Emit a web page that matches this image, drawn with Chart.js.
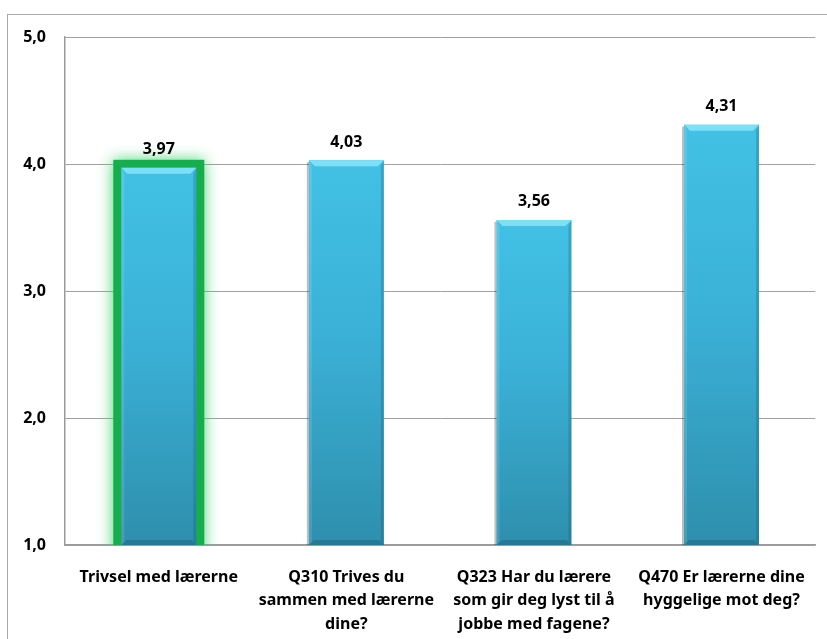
<!DOCTYPE html>
<html>
<head>
<meta charset="utf-8">
<script src="https://cdn.jsdelivr.net/npm/chart.js@4.4.1/dist/chart.umd.min.js"></script>
<style>
  html, body { margin: 0; padding: 0; background: #fff; overflow: hidden; }
  #wrap { position: relative; width: 827px; height: 639px; }
  #frame { position: absolute; left: 7px; top: 14px; width: 840px; height: 660px;
           border: 1px solid #a8a8a8; box-sizing: border-box; }
  canvas { position: absolute; left: 0; top: 0; }
</style>
</head>
<body>
<div id="wrap">
  <div id="frame"></div>
  <canvas id="myChart" width="827" height="639"></canvas>
</div>
<script>
// categories and values
var categories = [
  ["Trivsel med lærerne"],
  ["Q310 Trives du", "sammen med lærerne", "dine?"],
  ["Q323 Har du lærere", "som gir deg lyst til å", "jobbe med fagene?"],
  ["Q470 Er lærerne dine", "hyggelige mot deg?"]
];
var scores = [3.97, 4.03, 3.56, 4.31];
var yTicks = [1, 2, 3, 4, 5];

var fontFam = "'Noto Sans', 'DejaVu Sans', sans-serif";

function comma(v, d){
  return v.toFixed(d).replace('.', ',');
}

// bar fill: light cyan at top, darker teal at the base
function barFill(ctx){
  var chart = ctx.chart;
  var ys = chart.scales.y;
  if (!ys || ctx.raw == null || !chart.chartArea) return '#3bb0d6';
  var top = ys.getPixelForValue(ctx.raw);
  var bot = ys.getPixelForValue(ys.min);
  if (!isFinite(top) || !isFinite(bot)) return '#3bb0d6';
  var g = chart.ctx.createLinearGradient(0, top, 0, bot);
  g.addColorStop(0, '#42c1e5');
  g.addColorStop(0.45, '#3bb1d7');
  g.addColorStop(1, '#2e8fad');
  return g;
}

// green glow round the first bar
var glowPlugin = {
  id: 'glow',
  beforeDatasetsDraw: function(chart){
    var bar = chart.getDatasetMeta(0).data[0];
    if (!bar) return;
    var c = chart.ctx, a = chart.chartArea;
    var half = bar.width / 2;
    c.save();
    c.beginPath();
    c.rect(a.left, a.top - 20, a.right - a.left, a.bottom - a.top + 20);
    c.clip();
    c.shadowColor = 'rgba(60,210,110,0.95)';
    c.shadowBlur = 14;
    c.fillStyle = '#16ae4d';
    c.fillRect(bar.x - half - 8, bar.y - 8, bar.width + 16, a.bottom - bar.y + 20);
    c.restore();
  }
};

// bevel edges and value labels
var bevelPlugin = {
  id: 'bevel',
  afterDatasetsDraw: function(chart){
    var c = chart.ctx, a = chart.chartArea;
    chart.getDatasetMeta(0).data.forEach(function(bar, i){
      var l = bar.x - bar.width / 2, r = bar.x + bar.width / 2, t = bar.y;
      var b = Math.min(bar.base, a.bottom);
      var bv = 6;
      c.save();
      // top bevel
      c.fillStyle = '#7ee0f6';
      c.beginPath();
      c.moveTo(l, t); c.lineTo(r, t); c.lineTo(r - bv, t + bv); c.lineTo(l + bv, t + bv); c.closePath();
      c.fill();
      // right edge darker
      c.fillStyle = 'rgba(20,80,110,0.25)';
      c.beginPath();
      c.moveTo(r, t); c.lineTo(r, b); c.lineTo(r - 3, b - 3); c.lineTo(r - 3, t + bv); c.closePath();
      c.fill();
      // left edge light
      c.fillStyle = 'rgba(255,255,255,0.12)';
      c.beginPath();
      c.moveTo(l, t); c.lineTo(l, b); c.lineTo(l + 3, b - 3); c.lineTo(l + 3, t + bv); c.closePath();
      c.fill();
      // bottom bevel
      c.fillStyle = 'rgba(20,70,95,0.3)';
      c.beginPath();
      c.moveTo(l, b); c.lineTo(r, b); c.lineTo(r - 5, b - 5); c.lineTo(l + 5, b - 5); c.closePath();
      c.fill();
      // soft grey shadow on the left side (not on the glowing bar)
      if (i > 0) {
        c.fillStyle = 'rgba(0,0,0,0.25)';
        c.fillRect(l - 2, t + 2, 2, b - t - 2);
      }
      // value label
      c.fillStyle = '#000';
      c.font = 'bold 16px ' + fontFam;
      c.textAlign = 'center';
      c.textBaseline = 'middle';
      c.fillText(comma(scores[i], 2), bar.x, t - 18);
      c.restore();
    });
  }
};

var ctx = document.querySelector('#myChart').getContext('2d');
var barChart = new Chart(ctx, {
  type: 'bar',
  data: {
    labels: categories,
    datasets: [{
      data: scores,
      backgroundColor: barFill,
      borderWidth: 0,
      categoryPercentage: 1.0,
      barPercentage: 0.4
    }]
  },
  options: {
    responsive: false,
    animation: false,
    layout: { padding: { left: 0, right: 10, top: 37, bottom: 0 } },
    plugins: {
      legend: { display: false },
      tooltip: { enabled: false }
    },
    scales: {
      x: {
        grid: { display: false, drawTicks: false },
        border: { display: true, color: '#9a9a9a', width: 1.5 },
        ticks: {
          color: '#000',
          padding: 21,
          maxRotation: 0,
          autoSkip: false,
          font: { family: fontFam, size: 16, weight: 'bold', lineHeight: 1.45 }
        },
        afterFit: function(s){ s.height = 94; }
      },
      y: {
        min: 1,
        max: 5,
        afterBuildTicks: function(s){
          s.ticks = yTicks.map(function(v){ return { value: v }; });
        },
        grid: { color: '#a0a0a0', lineWidth: 1, drawTicks: false },
        border: { display: true, color: '#9a9a9a', width: 1.5 },
        ticks: {
          color: '#000',
          padding: 19,
          font: { family: fontFam, size: 16, weight: 'bold' },
          callback: function(v){ return comma(v, 1); }
        },
        afterFit: function(s){ s.width = 65; }
      }
    }
  },
  plugins: [glowPlugin, bevelPlugin]
});
barChart.update();
</script>
</body>
</html>
